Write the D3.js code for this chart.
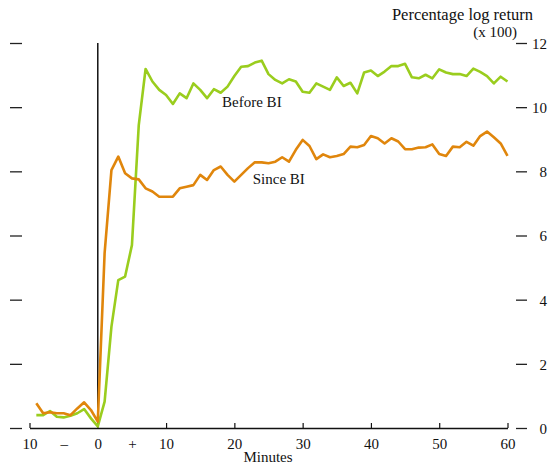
<!DOCTYPE html>
<html>
<head>
<meta charset="utf-8">
<script src="https://cdn.jsdelivr.net/npm/d3@7/dist/d3.min.js"></script>
<style>
  html, body { margin: 0; padding: 0; background: #fff; }
  svg text { font-family: "Liberation Serif", "DejaVu Serif", serif; fill: #111; }
</style>
</head>
<body>
<svg id="chart" width="550" height="466"></svg>
<script>
// ---- data ----
const minutes = d3.range(-9, 61);
const beforeBI = [
  0.40, 0.40, 0.53, 0.35, 0.33, 0.38, 0.46, 0.59, 0.30, 0.05,
  0.82, 3.16, 4.61, 4.72, 5.70, 9.44, 11.19, 10.80, 10.54, 10.38,
  10.10, 10.43, 10.28, 10.74, 10.54, 10.28, 10.56, 10.45, 10.64, 10.97,
  11.26, 11.28, 11.39, 11.45, 11.03, 10.85, 10.74, 10.87, 10.80, 10.48,
  10.45, 10.74, 10.64, 10.54, 10.93, 10.66, 10.76, 10.43, 11.08, 11.14,
  10.97, 11.11, 11.28, 11.28, 11.35, 10.93, 10.90, 11.01, 10.90, 11.18,
  11.08, 11.03, 11.03, 10.97, 11.20, 11.10, 10.97, 10.74, 10.95, 10.80
];
const sinceBI = [
  0.77, 0.46, 0.49, 0.46, 0.46, 0.40, 0.61, 0.80, 0.56, 0.20,
  5.45, 8.04, 8.46, 7.94, 7.78, 7.75, 7.47, 7.37, 7.21, 7.21,
  7.21, 7.47, 7.52, 7.57, 7.89, 7.73, 8.04, 8.15, 7.89, 7.68,
  7.89, 8.10, 8.28, 8.28, 8.25, 8.30, 8.44, 8.30, 8.67, 8.98,
  8.79, 8.38, 8.53, 8.44, 8.48, 8.54, 8.77, 8.75, 8.82, 9.10,
  9.03, 8.87, 9.03, 8.93, 8.69, 8.69, 8.74, 8.75, 8.84, 8.54,
  8.48, 8.77, 8.75, 8.92, 8.80, 9.10, 9.24, 9.06, 8.87, 8.48
];
const xTickValues = [-10, -5, 0, 5, 10, 20, 30, 40, 50, 60];
const xTickLabels = ["10", "\u2013", "0", "+", "10", "20", "30", "40", "50", "60"];
const yTickValues = [0, 2, 4, 6, 8, 10, 12];
const seriesNames = ["Before BI", "Since BI"];
const seriesColors = ["#9acd1e", "#e0860c"];

// ---- chart ----
const svg = d3.select("#chart");
const x = d3.scaleLinear().domain([-10, 60]).range([29.5, 507.5]);
const y = d3.scaleLinear().domain([0, 12]).range([428, 43]);

// x axis (ticks pointing up)
const xAxis = d3.axisBottom(x)
  .tickValues(xTickValues)
  .tickSizeInner(0).tickSizeOuter(0)
  .tickPadding(10)
  .tickFormat((d, i) => xTickLabels[i]);
const gx = svg.append("g").attr("transform", `translate(0,${y(0)})`).call(xAxis);
gx.select(".domain").attr("stroke", "#111").attr("stroke-width", 1.3);
gx.selectAll("text").attr("font-size", 15).attr("font-family", "Liberation Serif").attr("fill", "#111");
gx.selectAll(".tick")
  .filter(d => d !== -5 && d !== 5 && d !== 0)
  .append("line").attr("y1", 0).attr("y2", -5).attr("stroke", "#111").attr("stroke-width", 1.2);

// right y axis
const yAxisR = d3.axisRight(y)
  .tickValues(yTickValues)
  .tickSize(0).tickPadding(0)
  .tickFormat(d3.format("d"));
const gy = svg.append("g").attr("transform", "translate(516,0)").call(yAxisR);
gy.select(".domain").remove();
gy.selectAll(".tick line").remove();
gy.selectAll(".tick").append("line")
  .attr("x1", 0).attr("x2", 11).attr("stroke", "#222").attr("stroke-width", 1.3);
gy.selectAll("text")
  .attr("x", 31).attr("text-anchor", "end").attr("dy", "0.36em")
  .attr("font-size", 15).attr("font-family", "Liberation Serif").attr("fill", "#111");

// left y axis: dashes only
const yAxisL = d3.axisLeft(y).tickValues(yTickValues).tickSize(0).tickFormat("");
const gl = svg.append("g").attr("transform", "translate(10,0)").call(yAxisL);
gl.select(".domain").remove();
gl.selectAll(".tick").append("line")
  .attr("x1", 0).attr("x2", 12).attr("stroke", "#222").attr("stroke-width", 1.3);

// vertical event line at 0
svg.append("line")
  .attr("x1", x(0)).attr("x2", x(0))
  .attr("y1", y(12)).attr("y2", y(0))
  .attr("stroke", "#111").attr("stroke-width", 1.5);

// series lines
const line = d3.line().x((d, i) => x(minutes[i])).y(d => y(d));
[beforeBI, sinceBI].forEach((s, k) => {
  svg.append("path").datum(s)
    .attr("d", line)
    .attr("fill", "none")
    .attr("stroke", seriesColors[k])
    .attr("stroke-width", 2.6)
    .attr("stroke-linejoin", "round");
});

// series labels
const labelPos = [[18.2, 10.0], [22.7, 7.6]];
seriesNames.forEach((n, k) => {
  svg.append("text")
    .attr("x", x(labelPos[k][0])).attr("y", y(labelPos[k][1]))
    .attr("font-size", 15).text(n);
});

// axis titles
svg.append("text").attr("x", 533).attr("y", 19.5)
  .attr("text-anchor", "end").attr("font-size", 16.5).text("Percentage log return");
svg.append("text").attr("x", 517).attr("y", 37)
  .attr("text-anchor", "end").attr("font-size", 15).text("(x 100)");
svg.append("text").attr("x", 268).attr("y", 462)
  .attr("text-anchor", "middle").attr("font-size", 15).text("Minutes");
</script>
</body>
</html>
